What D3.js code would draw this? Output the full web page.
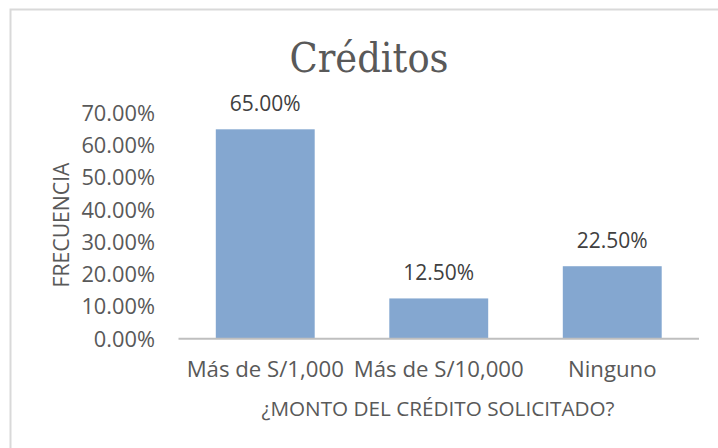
<!DOCTYPE html>
<html>
<head>
<meta charset="utf-8">
<script src="https://cdn.jsdelivr.net/npm/d3@7"></script>
<style>
  body { margin: 0; background: #fff; }
  svg text { font-family: "Open Sans", sans-serif; }
</style>
</head>
<body>
<div id="chart"></div>
<script>
var categories = ["Más de S/1,000", "Más de S/10,000", "Ninguno"];
var values = [0.65, 0.125, 0.225];
var tickValues = [0, 0.1, 0.2, 0.3, 0.4, 0.5, 0.6, 0.7];

var width = 718;
var height = 448;

var svg = d3.select("#chart")
    .append("svg")
    .attr("width", width)
    .attr("height", height);

// chart frame
svg.append("rect")
    .attr("x", 10.5)
    .attr("y", 9.5)
    .attr("width", 720)
    .attr("height", 450)
    .attr("fill", "#fff")
    .attr("stroke", "#d9d9d9")
    .attr("stroke-width", 2);

var x = d3.scaleBand()
    .domain(categories)
    .range([178.5, 699])
    .paddingInner(0.43)
    .paddingOuter(0.215);

var y = d3.scaleLinear()
    .domain([0, 0.7])
    .range([338.7, 113.2]);

var fmt = d3.format(".2%");

// y tick labels
svg.selectAll(".ytick")
    .data(tickValues)
    .enter()
    .append("text")
    .attr("class", "ytick")
    .attr("x", 155)
    .attr("y", function (d) { return y(d); })
    .attr("dy", "0.36em")
    .attr("text-anchor", "end")
    .attr("font-size", 21.8)
    .attr("fill", "#595959")
    .text(function (d) { return fmt(d); });

svg.selectAll(".bar")
    .data(values)
    .enter()
    .append("rect")
    .attr("class", "bar")
    .attr("x", function (d, i) { return x(categories[i]); })
    .attr("y", function (d) { return y(d); })
    .attr("width", x.bandwidth())
    .attr("height", function (d) { return y(0) - y(d); })
    .attr("fill", "#84a7d0");

// baseline
svg.append("line")
    .attr("x1", x.range()[0])
    .attr("x2", x.range()[1])
    .attr("y1", y(0))
    .attr("y2", y(0))
    .attr("stroke", "#bfbfbf")
    .attr("stroke-width", 2);

// value labels
svg.selectAll(".vlabel")
    .data(values)
    .enter()
    .append("text")
    .attr("class", "vlabel")
    .attr("x", function (d, i) { return x(categories[i]) + x.bandwidth() / 2; })
    .attr("y", function (d) { return y(d) - 18; })
    .attr("text-anchor", "middle")
    .attr("font-size", 21)
    .attr("fill", "#404040")
    .text(function (d) { return fmt(d); });

// category labels
svg.selectAll(".xlabel")
    .data(categories)
    .enter()
    .append("text")
    .attr("class", "xlabel")
    .attr("x", function (d) { return x(d) + x.bandwidth() / 2; })
    .attr("y", 377)
    .attr("text-anchor", "middle")
    .attr("font-size", 22.2)
    .attr("fill", "#595959")
    .text(function (d) { return d; });

// title
svg.append("text")
    .attr("x", 369)
    .attr("y", 72)
    .attr("text-anchor", "middle")
    .style("font-family", "'DejaVu Serif Condensed', 'DejaVu Serif', serif")
    .attr("font-size", 41)
    .attr("fill", "#595959")
    .text("Créditos");

// axis titles
svg.append("text")
    .attr("x", 438)
    .attr("y", 416)
    .attr("text-anchor", "middle")
    .attr("font-size", 20.7)
    .attr("fill", "#595959")
    .text("¿MONTO DEL CRÉDITO SOLICITADO?");

svg.append("text")
    .attr("transform", "translate(69,225) rotate(-90)")
    .attr("text-anchor", "middle")
    .attr("font-size", 21.2)
    .attr("fill", "#595959")
    .text("FRECUENCIA");
</script>
</body>
</html>
